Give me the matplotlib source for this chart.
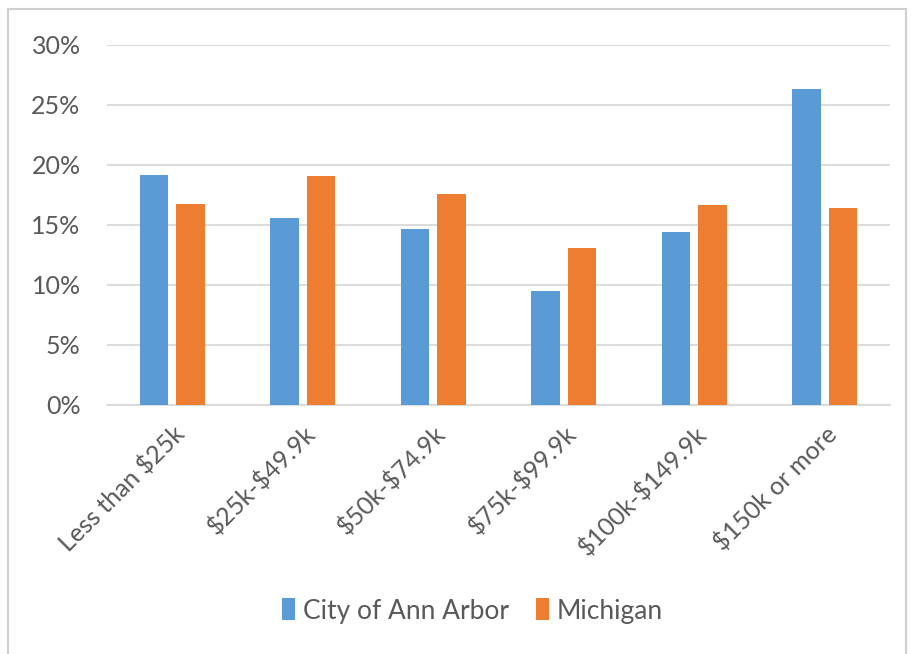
import numpy as np
import matplotlib
matplotlib.use("Agg")
import matplotlib.pyplot as plt
from matplotlib.ticker import PercentFormatter

categories = ["Less than $25k", "$25k-$49.9k", "$50k-$74.9k",
              "$75k-$99.9k", "$100k-$149.9k", "$150k or more"]
ann_arbor = [19.2, 15.6, 14.7, 9.5, 14.45, 26.3]
michigan = [16.75, 19.05, 17.6, 13.05, 16.7, 16.4]
series_names = ["City of Ann Arbor", "Michigan"]

plt.rcParams['font.family'] = ['Lato', 'DejaVu Sans']

fig = plt.figure(figsize=(9.12, 6.54), dpi=100)
ax = fig.add_axes([107/912, 1 - 405/654, (890-107)/912, (405-45)/654])

# grey frame around the whole chart
fig.patches.append(plt.Rectangle((8/912, -0.05), 898/912, 1 - 9/654 + 0.05,
                                 transform=fig.transFigure, fill=False,
                                 edgecolor='#d0d0d0', linewidth=1.5))

x = np.arange(len(categories))
w = 0.22
ax.bar(x - 0.03 - w/2, ann_arbor, w, color='#5b9bd5', label=series_names[0], zorder=3)
ax.bar(x + 0.03 + w/2, michigan, w, color='#ed7d31', label=series_names[1], zorder=3)

ax.set_xlim(-0.5, len(categories) - 0.5)
ax.set_ylim(0, 30)
ax.set_yticks(np.arange(0, 31, 5))
ax.yaxis.set_major_formatter(PercentFormatter(decimals=0))
ax.grid(axis='y', color='#d9d9d9', linewidth=1.3, zorder=0)
for s in ['top', 'right', 'left']:
    ax.spines[s].set_visible(False)
ax.spines['bottom'].set_color('#d9d9d9')
ax.spines['bottom'].set_linewidth(1.3)
ax.tick_params(length=0, colors='#595959', labelsize=18)
ax.tick_params(axis='y', pad=19)
ax.tick_params(axis='x', pad=12)

ax.set_xticks(x)
ax.set_xticklabels([c.replace('$', r'\$') for c in categories],
                   rotation=45, ha='right', rotation_mode='anchor')

fig.legend(loc='center', bbox_to_anchor=(0.518, 1 - 611/654), ncol=2, frameon=False,
           fontsize=19, labelcolor='#595959', handlelength=0.5, handleheight=0.9,
           handletextpad=0.3, columnspacing=1.0)

fig.savefig('out.png', dpi=100)
